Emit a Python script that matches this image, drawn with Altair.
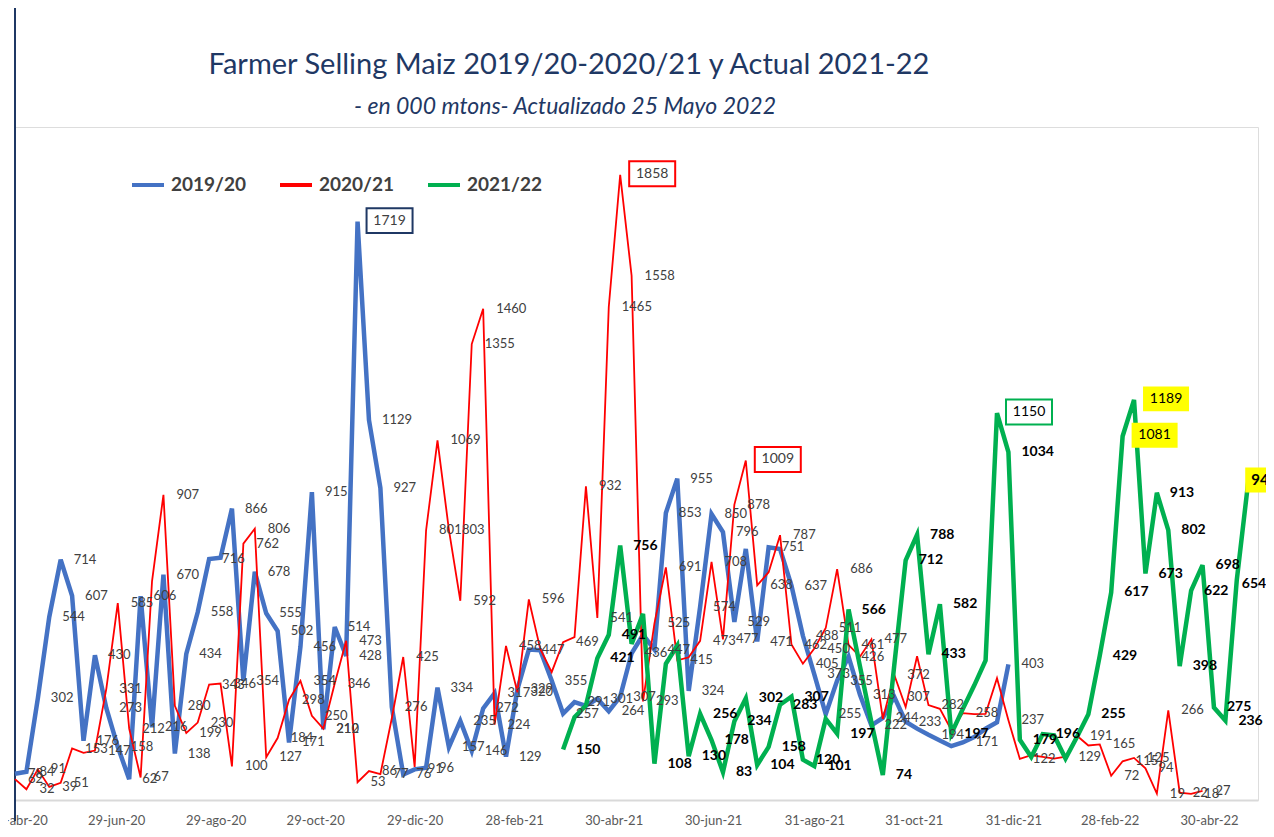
import altair as alt
import pandas as pd

series_names = ["2019/20", "2020/21", "2021/22"]
series_colors = ["#4472C4", "#FF0000", "#00B050"]
box_colors = ["#1F3864", "#FF0000", "#00B050"]
series_widths = [4.5, 1.8, 4.5]
series_starts = ["2020-04-28", "2020-04-28", "2021-03-30"]

blue_vals = [78, 84, 302, 544, 714, 607, 176, 430, 273, 158,
             62, 606, 216, 670, 138, 434, 558, 716, 720, 866,
             354, 678, 555, 502, 171, 456, 915, 210, 514, 428,
             1719, 1129, 927, 276, 76, 91, 96, 334, 157, 235,
             146, 272, 317, 129, 329, 447, 445, 355, 257, 291,
             280, 301, 264, 307, 436, 491, 447, 853, 955, 324,
             574, 850, 796, 529, 746, 471, 751, 746, 637, 488,
             373, 255, 355, 426, 313, 222, 244, 307, 233, 212,
             194, 177, 160, 171, 187, 212, 231, 403]

red_vals = [62, 32, 91, 39, 51, 153, 140, 147, 331, 585,
            212, 67, 650, 907, 280, 199, 230, 343, 346, 100,
            762, 806, 127, 184, 298, 354, 250, 212, 346, 473,
            53, 86, 77, 243, 425, 98, 801, 1069, 803, 592,
            1355, 1460, 224, 458, 320, 596, 449, 380, 469, 484,
            932, 541, 1465, 1858, 1558, 293, 525, 691, 415, 424,
            473, 708, 477, 878, 1009, 638, 677, 787, 462, 405,
            450, 511, 686, 461, 426, 477, 241, 372, 276, 427,
            282, 271, 208, 258, 255, 256, 362, 237, 122, 133,
            128, 123, 129, 191, 162, 165, 72, 115, 125, 94,
            19, 266, 22, 18, 27]

green_vals = [150, 246, 281, 421, 491, 756, 464, 553, 108, 405,
              459, 130, 256, 178, 83, 234, 302, 104, 158, 283,
              307, 120, 101, 241, 197, 566, 397, 231, 74, 400,
              712, 788, 433, 582, 197, 270, 340, 415, 1150, 1034,
              179, 128, 196, 192, 123, 187, 255, 429, 617, 1081,
              1189, 673, 913, 802, 398, 622, 698, 275, 236, 654,
              945]

tick_dates = ["2020-04-30", "2020-06-29", "2020-08-29", "2020-10-29", "2020-12-29",
              "2021-02-28", "2021-04-30", "2021-06-30", "2021-08-31", "2021-10-31",
              "2021-12-31", "2022-02-28", "2022-04-30"]
tick_labels = ["30-abr-20", "29-jun-20", "29-ago-20", "29-oct-20", "29-dic-20",
               "28-feb-21", "30-abr-21", "30-jun-21", "31-ago-21", "31-oct-21",
               "31-dic-21", "28-feb-22", "30-abr-22"]

title_text = "Farmer Selling Maiz 2019/20-2020/21 y Actual  2021-22"
subtitle_text = "- en 000 mtons- Actualizado 25 Mayo  2022"

# label styling per point (series, point index)
boxed = {("2019/20", 30), ("2020/21", 53), ("2020/21", 64), ("2021/22", 38)}
yellow = {("2021/22", 49), ("2021/22", 50)}
yellow_end = {("2021/22", 60)}
near_edge = {("2021/22", 59)}
unlabeled = {
    "2019/20": [18, 46, 50, 55, 64, 67, 79, 81, 82, 84, 85, 86],
    "2020/21": [6, 12, 33, 35, 46, 47, 49, 59, 66, 74, 76, 78, 79, 81, 82, 84, 85, 86,
                89, 90, 91, 94],
    "2021/22": [1, 2, 6, 7, 9, 10, 23, 26, 27, 29, 35, 36, 37, 41, 43, 44, 45],
}

base = pd.Timestamp("2020-04-28")
rows = []
for name, start, vals in zip(series_names, series_starts, [blue_vals, red_vals, green_vals]):
    s = pd.Timestamp(start)
    for i, v in enumerate(vals):
        key = (name, i)
        if key in boxed:
            style = "box"
        elif key in yellow:
            style = "yel"
        elif key in yellow_end:
            style = "yend"
        elif key in near_edge:
            style = "edge"
        elif i in unlabeled[name]:
            style = "h"
        else:
            style = "n"
        rows.append({"series": name, "day": (s - base).days + 7 * i, "value": v, "style": style})
df = pd.DataFrame(rows)

tick_days = [(pd.Timestamp(d) - base).days for d in tick_dates]
label_expr = ("[" + ",".join(f"'{t}'" for t in tick_labels) + "][indexof(["
              + ",".join(str(d) for d in tick_days) + "], datum.value)]")

FONT = "Lato"
NAVY = "#1F3864"

x = alt.X("day:Q", scale=alt.Scale(domain=[0, 762], nice=False, zero=False),
          axis=alt.Axis(values=tick_days, labelExpr=label_expr, title=None, grid=False,
                        ticks=False, domainColor="#d9d9d9", domainWidth=2, labelFont=FONT,
                        labelFontSize=13, labelColor="#595959", labelPadding=14,
                        labelOverlap=False, labelFlush=False))
y = alt.Y("value:Q", scale=alt.Scale(domain=[0, 2000], nice=False), axis=None)
color = alt.Color("series:N", scale=alt.Scale(domain=series_names, range=series_colors),
                  legend=alt.Legend(orient="none", legendX=115, legendY=40, direction="horizontal",
                                    title=None, symbolType="stroke", symbolStrokeWidth=4,
                                    symbolSize=1024, labelFont=FONT, labelFontSize=19,
                                    labelFontWeight="bold", labelColor="#404040",
                                    columnPadding=26, labelOffset=5, padding=0))

one = pd.DataFrame({"t": [title_text], "s": [subtitle_text]})

frame = alt.Chart(one).mark_rule(color=NAVY, strokeWidth=2).encode(
    x=alt.value(0), y=alt.value(-119), y2=alt.value(694))

title = alt.Chart(one).mark_text(align="center", baseline="middle", font=FONT, fontSize=29,
                                 color=NAVY).encode(
    x=alt.value(554), y=alt.value(-62), text="t:N")
subtitle = alt.Chart(one).mark_text(align="center", baseline="middle", font=FONT, fontSize=23,
                                    fontStyle="italic", color=NAVY).encode(
    x=alt.value(550), y=alt.value(-20), text="s:N")

lines = []
for n, w in zip(series_names, series_widths):
    lines.append(alt.Chart(df).transform_filter(alt.datum.series == n).mark_line(
        strokeWidth=w, strokeJoin="miter", strokeMiterLimit=4).encode(
        x=x, y=y, color=color, order="day:Q"))

lab_br = alt.Chart(df).transform_filter(
    "datum.style == 'n' && datum.series != '2021/22'").mark_text(
    align="left", baseline="middle", dx=13, font=FONT, fontSize=13, color="#404040").encode(
    x=x, y=y, text=alt.Text("value:Q", format="d"))

lab_g = alt.Chart(df).transform_filter(
    "datum.style == 'n' && datum.series == '2021/22'").mark_text(
    align="left", baseline="middle", dx=13, font=FONT, fontSize=14, fontWeight="bold",
    color="#000000").encode(x=x, y=y, text=alt.Text("value:Q", format="d"))

lab_edge = alt.Chart(df).transform_filter("datum.style == 'edge'").mark_text(
    align="left", baseline="middle", dx=5, dy=4, font=FONT, fontSize=14, fontWeight="bold",
    color="#000000").encode(x=x, y=y, text=alt.Text("value:Q", format="d"))

RECT = "M-1,-0.54H1V0.54H-1Z"
box = alt.Chart(df).transform_filter("datum.style == 'box'").mark_point(
    shape=RECT, size=2116, filled=True, fill="white", strokeWidth=2, opacity=1,
    xOffset=32, yOffset=-1).encode(
    x=x, y=y, stroke=alt.Stroke("series:N", scale=alt.Scale(domain=series_names, range=box_colors),
                                legend=None))

yel = alt.Chart(df).transform_filter("datum.style == 'yel'").mark_point(
    shape=RECT, size=2116, filled=True, fill="#FFFF00", strokeWidth=0, opacity=1,
    xOffset=32, yOffset=-1).encode(x=x, y=y)

yend = alt.Chart(df).transform_filter("datum.style == 'yend'").mark_point(
    shape=RECT, size=2116, filled=True, fill="#FFFF00", strokeWidth=0, opacity=1,
    xOffset=20, yOffset=-2).encode(x=x, y=y)

box_txt_br = alt.Chart(df).transform_filter(
    "(datum.style == 'box') && datum.series != '2021/22'").mark_text(
    align="center", baseline="middle", dx=32, dy=-1, font=FONT, fontSize=14,
    color="#404040").encode(x=x, y=y, text=alt.Text("value:Q", format="d"))

box_txt_g = alt.Chart(df).transform_filter(
    "(datum.style == 'box' || datum.style == 'yel') && datum.series == '2021/22'").mark_text(
    align="center", baseline="middle", dx=32, dy=-1, font=FONT, fontSize=14,
    color="#000000").encode(x=x, y=y, text=alt.Text("value:Q", format="d"))

yend_txt = alt.Chart(df).transform_filter("datum.style == 'yend'").mark_text(
    align="left", baseline="middle", dx=3, dy=-2, font=FONT, fontSize=15, fontWeight="bold",
    color="#000000").encode(x=x, y=y, text=alt.Text("value:Q", format="d"))

chart = alt.layer(frame, title, subtitle, *lines, lab_br, lab_g, lab_edge, box, yel, yend,
                  box_txt_br, box_txt_g, yend_txt).properties(
    width=1243, height=673,
    padding={"left": 7, "top": 119, "right": 8, "bottom": 29},
    autosize=alt.AutoSizeParams(type="none"),
).configure_view(fill="#eeeeee", stroke=None).configure(background="white")

chart.save("out.html", embed_options={"renderer": "svg", "actions": False})
